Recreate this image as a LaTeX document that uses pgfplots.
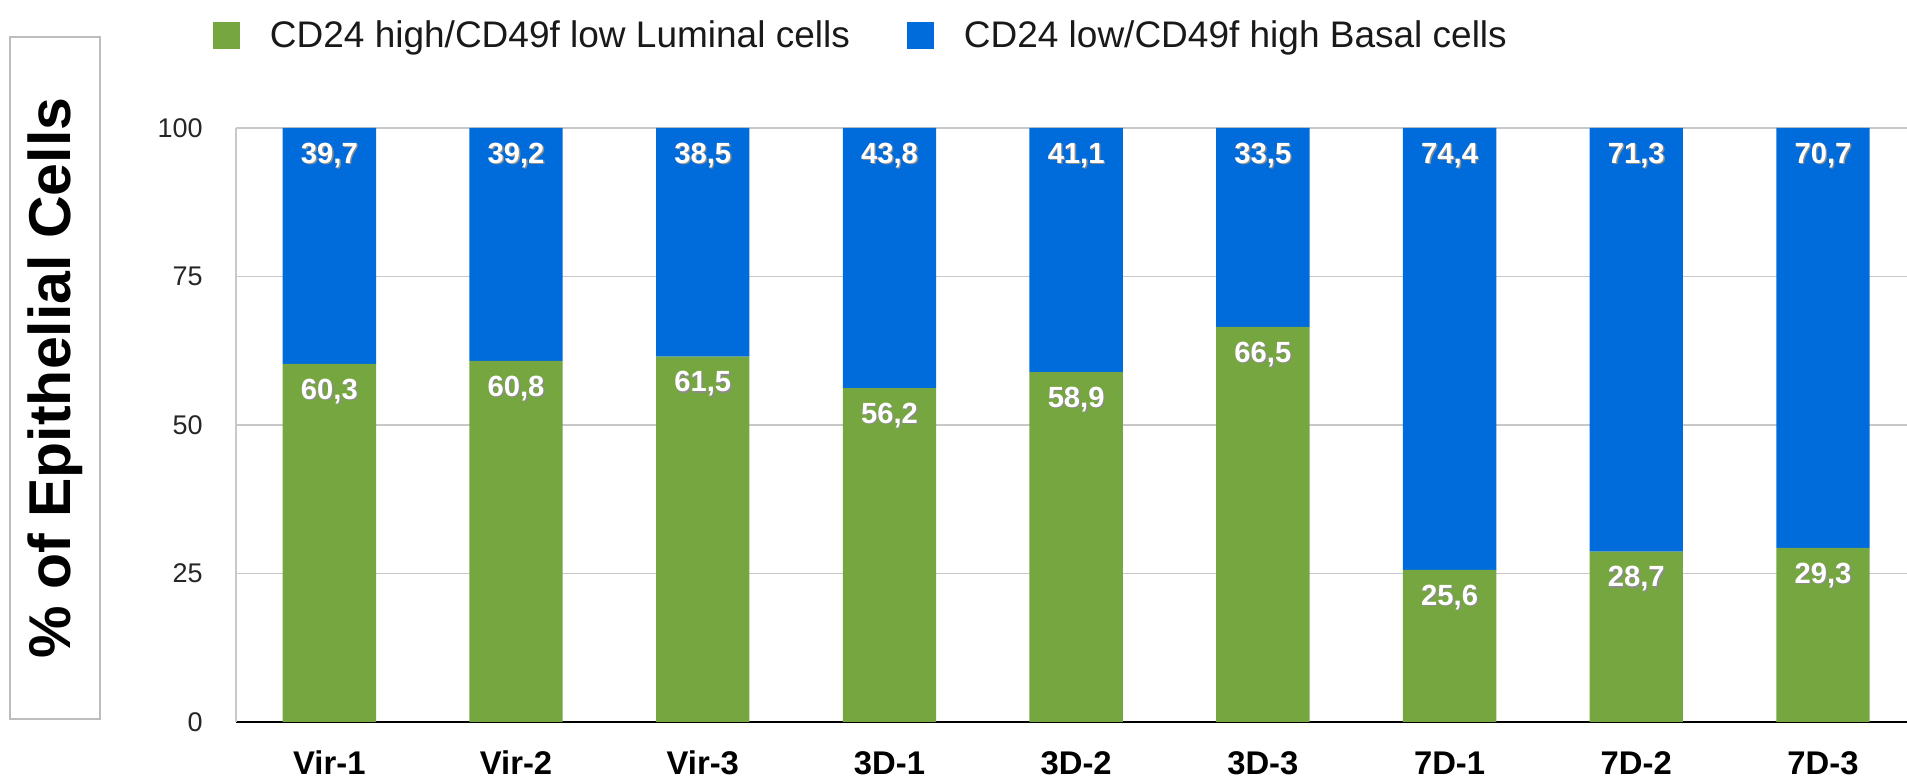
\documentclass[border=0pt]{standalone}
\usepackage{fontspec}
\setmainfont{Liberation Sans}
\usepackage{pgfplots}
\pgfplotsset{compat=1.18}
\usepackage{pgfplotstable}
\definecolor{lumgreen}{HTML}{76A640}
\definecolor{basblue}{HTML}{006CDC}
\definecolor{gridgray}{HTML}{C8C8C8}
\definecolor{boxgray}{HTML}{BDBDBD}
\newcommand\shadowtext[1]{\makebox[0pt][l]{\hspace{0.7pt}\raisebox{-0.7pt}{\textcolor{black!45}{#1}}}\textcolor{white}{#1}}

\pgfplotstableread{
x g gl b bl t
0 60.3 60,3 39.7 39,7 100
1 60.8 60,8 39.2 39,2 100
2 61.5 61,5 38.5 38,5 100
3 56.2 56,2 43.8 43,8 100
4 58.9 58,9 41.1 41,1 100
5 66.5 66,5 33.5 33,5 100
6 25.6 25,6 74.4 74,4 100
7 28.7 28,7 71.3 71,3 100
8 29.3 29,3 70.7 70,7 100
}\data

\begin{document}
\begin{tikzpicture}
\begin{axis}[
  at={(0,0)}, anchor=south west, scale only axis,
  width=835.5pt, height=297pt,
  ybar stacked, bar width=0.5,
  xmin=-0.5, xmax=8.45, ymin=0, ymax=100,
  enlargelimits=false,
  xtick={0,...,8},
  xticklabels={Vir-1,Vir-2,Vir-3,3D-1,3D-2,3D-3,7D-1,7D-2,7D-3},
  ytick={0,25,50,75,100},
  /pgf/number format/assume math mode=true,
  major tick length=0pt,
  ymajorgrids,
  grid style={gridgray, line width=0.75pt},
  axis x line*=bottom, axis y line*=left,
  x axis line style={black, line width=1.1pt},
  y axis line style={gridgray, line width=0.75pt},
  yticklabel style={font=\fontsize{13.5}{16}\selectfont, text=black!85, anchor=east, inner sep=0pt, xshift=-16.5pt},
  xticklabel style={font=\bfseries\fontsize{16.4}{18}\selectfont, text=black, anchor=center, inner sep=0pt, yshift=-20.5pt},
  every axis y label/.style={at={(axis description cs:-0.1083,0.579)}, anchor=center, rotate=90, draw=boxgray, line width=0.6pt, minimum width=341pt, minimum height=45pt, inner sep=0pt, font=\bfseries\fontsize{29.5}{32}\selectfont},
  ylabel={\% of Epithelial Cells},
  legend columns=2,
  legend image code/.code={\fill[#1] (0pt,-6.75pt) rectangle (13.5pt,6.75pt);},
  legend style={at={(-0.01377,1.155)}, anchor=west, draw=none, fill=none, inner sep=0pt, outer sep=0pt,
    font=\fontsize{18.5}{22}\selectfont, text=black!90,
    nodes={inner sep=0pt},
    /tikz/every odd column/.style={column sep=15pt},
    /tikz/every even column/.style={column sep=28.5pt}},
]
\addplot[fill=lumgreen, draw=none] table[x=x, y=g] {\data};
\addlegendentry{CD24 high/CD49f low Luminal cells}
\addplot[fill=basblue, draw=none] table[x=x, y=b] {\data};
\addlegendentry{CD24 low/CD49f high Basal cells}
\end{axis}
\begin{axis}[
  at={(0,0)}, anchor=south west, scale only axis,
  width=835.5pt, height=297pt,
  xmin=-0.5, xmax=8.45, ymin=0, ymax=100,
  enlargelimits=false, hide axis,
  point meta=explicit symbolic,
  nodes near coords={\shadowtext{\pgfplotspointmeta}},
  every node near coord/.append style={font=\bfseries\fontsize{14.6}{16}\selectfont, anchor=center, yshift=-14pt, inner sep=0pt},
]
\addplot[draw=none, mark=none] table[x=x, y=g, meta=gl] {\data};
\addplot[draw=none, mark=none] table[x=x, y=t, meta=bl] {\data};
\end{axis}
\pgfresetboundingbox
\useasboundingbox (-118pt,-28.5pt) rectangle (835.5pt,361pt);
\end{tikzpicture}
\end{document}
